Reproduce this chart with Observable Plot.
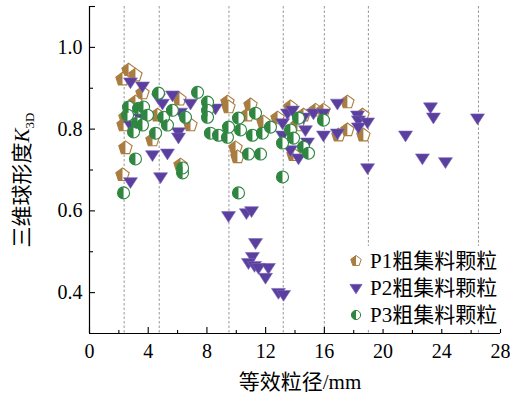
<!DOCTYPE html>
<html><head><meta charset="utf-8">
<script src="https://cdn.jsdelivr.net/npm/d3@7"></script>
<script src="https://cdn.jsdelivr.net/npm/@observablehq/plot@0.6"></script>
<style>
html,body{margin:0;padding:0;background:#fff;}
</style>
</head><body><div id="chart"></div>
<script>
const seriesNames = ["P1粗集料颗粒", "P2粗集料颗粒", "P3粗集料颗粒"];
const p1X = [2.66,2.25,3.13,3.61,3.13,2.45,2.32,2.45,2.25,4.63,6.13,6.88,4.29,6.20,9.40,9.47,10.97,10.76,11.85,12.81,9.95,10.08,13.69,14.17,13.90,15.40,15.94,17.57,17.57,16.96,18.60,18.66,14.58];
const p1Y = [0.944,0.922,0.932,0.888,0.866,0.829,0.810,0.754,0.688,0.834,0.873,0.810,0.773,0.712,0.866,0.854,0.859,0.834,0.817,0.827,0.754,0.732,0.854,0.810,0.737,0.846,0.846,0.866,0.798,0.785,0.834,0.785,0.834];
const p2X = [2.79,3.61,5.65,4.70,4.97,6.88,6.20,3.34,3.47,2.79,6.06,6.06,4.29,5.31,4.84,2.79,8.58,13.15,13.49,13.83,14.58,15.26,15.94,16.89,13.15,14.71,14.85,13.69,14.24,15.94,16.89,18.26,18.32,18.32,18.94,18.94,21.53,23.23,23.43,22.68,24.25,26.43,9.47,10.69,11.04,11.31,11.10,10.83,11.24,11.51,12.19,11.99,12.87,13.22];
const p2Y = [0.915,0.905,0.883,0.876,0.863,0.863,0.841,0.846,0.827,0.810,0.793,0.780,0.737,0.741,0.683,0.671,0.851,0.815,0.839,0.846,0.829,0.839,0.839,0.863,0.785,0.798,0.768,0.749,0.729,0.785,0.790,0.834,0.822,0.805,0.817,0.705,0.785,0.854,0.829,0.729,0.720,0.827,0.588,0.595,0.600,0.522,0.488,0.473,0.466,0.461,0.461,0.437,0.400,0.395];
const p3X = [4.70,7.36,8.04,8.04,8.04,2.66,3.34,3.68,2.59,3.95,3.27,3.61,3.00,4.50,5.31,5.04,5.65,6.54,8.24,8.79,9.40,9.47,10.15,10.29,11.10,11.31,11.78,10.83,11.65,12.33,2.32,3.13,6.34,10.15,13.15,14.24,15.94,13.69,13.90,14.58,14.92,13.15,6.34];
const p3Y = [0.888,0.890,0.866,0.846,0.829,0.854,0.851,0.854,0.834,0.834,0.815,0.810,0.793,0.790,0.810,0.829,0.846,0.829,0.790,0.785,0.780,0.805,0.827,0.798,0.785,0.839,0.790,0.739,0.739,0.805,0.644,0.727,0.693,0.644,0.766,0.827,0.822,0.798,0.778,0.756,0.741,0.683,0.705];
const sieveSizes = [2.36, 4.75, 9.5, 13.2, 16, 19, 26.5];
const xTickValues = [0, 4, 8, 12, 16, 20, 24, 28];
const xMinorTicks = [2, 6, 10, 14, 18, 22, 26];
const yTickValues = [0.4, 0.6, 0.8, 1.0];
const yMinorTicks = [0.5, 0.7, 0.9];
const yTopTick = [1.1];
const xTitle = "等效粒径/mm";
const yTitleMain = "三维球形度", yTitleVar = "K", yTitleSub = "3D";

const C1 = "#A97C3F", C2 = "#5B3F9F", C3 = "#2E8641";
const FONT = "'Liberation Serif','Times New Roman','Noto Sans CJK SC',serif";

const rad = s => Math.sqrt(s / Math.PI);
const pentPts = r => d3.range(5).map(k => { const a = -Math.PI/2 + k*2*Math.PI/5; return [r*Math.cos(a), r*Math.sin(a)]; });
const pentagonFull = {draw(c, s){ const p = pentPts(rad(s)); c.moveTo(...p[0]); for (let i=1;i<5;i++) c.lineTo(...p[i]); c.closePath(); }};
const pentagonLeft = {draw(c, s){ const p = pentPts(rad(s)); c.moveTo(...p[0]); c.lineTo(...p[4]); c.lineTo(...p[3]); c.lineTo(0, p[3][1]); c.closePath(); }};
const triDown = {draw(c, s){ const r = rad(s); c.moveTo(-r, -0.6*r); c.lineTo(r, -0.6*r); c.lineTo(0, 0.95*r); c.closePath(); }};
const circleFull = {draw(c, s){ const r = rad(s); c.moveTo(r, 0); c.arc(0, 0, r, 0, 2*Math.PI); c.closePath(); }};
const circleLeft = {draw(c, s){ const r = rad(s); c.moveTo(0, -r); c.arc(0, 0, r, -Math.PI/2, Math.PI/2, true); c.closePath(); }};

const toPts = (xs, ys) => xs.map((x, i) => ({x, y: ys[i]}));
const P1 = toPts(p1X, p1Y), P2 = toPts(p2X, p2Y), P3 = toPts(p3X, p3Y);

const W = 510, H = 401, ML = 89, MR = 10, MT = 6, MB = 68;
const FW = W - ML - MR, FH = H - MT - MB;

const chart = Plot.plot({
  width: W, height: H, marginLeft: ML, marginRight: MR, marginTop: MT, marginBottom: MB,
  x: {domain: [0, 28]},
  y: {domain: [0.3, 1.1]},
  style: {fontFamily: FONT, fontSize: "20px", color: "#000", background: "#fff"},
  marks: [
    Plot.ruleX(sieveSizes, {x: d => d, stroke: "#8c8c8c", strokeDasharray: "2.5,2", strokeWidth: 0.9}),
    Plot.dot(P1, {x: "x", y: "y", r: 7, symbol: pentagonFull, fill: "#fff", stroke: C1, strokeWidth: 1.1}),
    Plot.dot(P1, {x: "x", y: "y", r: 7, symbol: pentagonLeft, fill: C1, stroke: "none"}),
    Plot.dot(P2, {x: "x", y: "y", r: 7, symbol: triDown, fill: C2, stroke: "#7a66bb", strokeWidth: 0.6}),
    Plot.dot(P3, {x: "x", y: "y", r: 6, symbol: circleFull, fill: "#fff", stroke: C3, strokeWidth: 1.1}),
    Plot.dot(P3, {x: "x", y: "y", r: 6, symbol: circleLeft, fill: C3, stroke: "none"}),
    Plot.ruleX([0], {stroke: "#000", strokeWidth: 1.2}),
    Plot.ruleY([0.3], {stroke: "#000", strokeWidth: 1.2}),
    Plot.tickX(xTickValues, {x: d => d, insetTop: FH - 6, stroke: "#000", strokeWidth: 1.1}),
    Plot.tickX(xMinorTicks, {x: d => d, insetTop: FH - 3, stroke: "#000", strokeWidth: 1.1}),
    Plot.tickY(yTickValues.concat(yTopTick), {y: d => d, insetRight: FW - 6, stroke: "#000", strokeWidth: 1.1}),
    Plot.tickY(yMinorTicks, {y: d => d, insetRight: FW - 4, stroke: "#000", strokeWidth: 1.1}),
    Plot.axisX({ticks: xTickValues, tickSize: 0, tickPadding: 10, tickFormat: d => String(d), label: null, fontSize: 20}),
    Plot.axisY({ticks: yTickValues, tickSize: 0, tickPadding: 7, tickFormat: d3.format(".1f"), label: null, fontSize: 20})
  ]
});
document.getElementById("chart").appendChild(chart);

const svg = d3.select(chart);
// axis titles
svg.append("text").attr("x", 300).attr("y", 389).attr("text-anchor", "middle")
  .attr("font-family", FONT).attr("font-size", 21).attr("fill", "#000").text(xTitle);
const yt = svg.append("text").attr("transform", "translate(29,180) rotate(-90)").attr("text-anchor", "middle")
  .attr("font-family", FONT).attr("font-size", 21).attr("fill", "#000");
yt.append("tspan").text(yTitleMain);
yt.append("tspan").attr("font-style", "italic").text(yTitleVar);
yt.append("tspan").attr("font-size", 13).attr("dy", "0.35em").text(yTitleSub);

// legend
const lg = svg.append("g").attr("text-anchor", "start");
lg.append("rect").attr("x", 340).attr("y", 246).attr("width", 163).attr("height", 83).attr("fill", "#fff");
const legendRows = [
  {name: seriesNames[0], cy: 261, shapes: [[pentagonFull, "#fff", C1], [pentagonLeft, C1, "none"]], r: 5.5},
  {name: seriesNames[1], cy: 288, shapes: [[triDown, C2, "#7a66bb"]], r: 6},
  {name: seriesNames[2], cy: 315, shapes: [[circleFull, "#fff", C3], [circleLeft, C3, "none"]], r: 4.6}
];
legendRows.forEach(row => {
  row.shapes.forEach(([sym, fill, stroke]) => {
    const p = d3.path(); sym.draw(p, row.r * row.r * Math.PI);
    lg.append("path").attr("d", p.toString()).attr("transform", `translate(356,${row.cy})`)
      .attr("fill", fill).attr("stroke", stroke).attr("stroke-width", 1);
  });
  lg.append("text").attr("x", 370).attr("y", row.cy + 7).attr("text-anchor", "start").attr("font-family", FONT)
    .attr("font-size", 21).attr("fill", "#000").text(row.name);
});
</script>
</body></html>
